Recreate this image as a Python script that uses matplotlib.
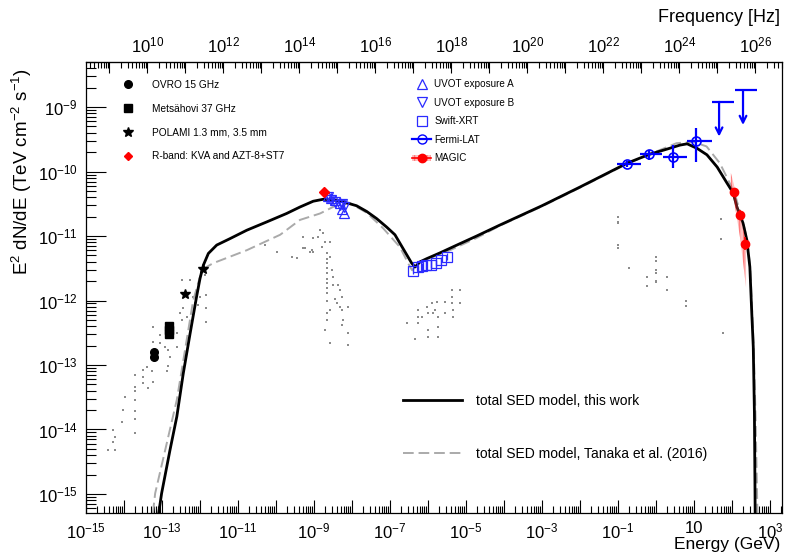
import numpy as np
import matplotlib
matplotlib.use("Agg")
import matplotlib.pyplot as plt
from matplotlib.ticker import LogLocator, FuncFormatter, NullFormatter
from matplotlib.lines import Line2D
from matplotlib.patches import Patch

plt.rcParams['font.family'] = ['Liberation Sans', 'DejaVu Sans']
plt.rcParams['mathtext.fontset'] = 'custom'
plt.rcParams['mathtext.rm'] = 'Liberation Sans'
plt.rcParams['mathtext.it'] = 'Liberation Sans:italic'
plt.rcParams['mathtext.bf'] = 'Liberation Sans:bold'

# ---- data (log10 E [GeV], log10 E^2 dN/dE [TeV cm-2 s-1]) ----
model_loge = [-13.10, -13.01, -12.79, -12.61, -12.44, -12.26, -12.09, -12.00, -11.91, -11.78,
              -11.56, -11.21, -10.77, -10.24, -9.72, -9.37, -9.02, -8.76, -8.49, -8.23,
              -7.88, -7.61, -7.35, -7.09, -6.87, -6.74, -6.56, -6.43, -6.34, -6.21,
              -6.03, -5.68, -5.24, -4.72, -4.11, -3.00, -2.00, -0.76, -0.16, 0.30,
              0.63, 0.82, 1.08, 1.34, 1.61, 1.87, 2.03, 2.13, 2.29, 2.39,
              2.47, 2.52, 2.56, 2.59, 2.61]
model_logf = [-15.35, -14.99, -14.32, -13.80, -13.13, -12.51, -11.94, -11.66, -11.45, -11.27,
              -11.14, -11.04, -10.91, -10.78, -10.65, -10.55, -10.46, -10.43, -10.44, -10.47,
              -10.53, -10.62, -10.73, -10.86, -10.98, -11.11, -11.29, -11.42, -11.48, -11.40,
              -11.35, -11.26, -11.14, -11.00, -10.83, -10.53, -10.24, -9.87, -9.73, -9.65,
              -9.59, -9.57, -9.64, -9.74, -9.93, -10.18, -10.33, -10.55, -10.80, -11.06,
              -11.48, -12.19, -12.72, -13.74, -15.30]

tanaka_loge = [-13.24, -13.18, -12.61, -12.18, -12.00, -11.89, -11.65, -10.77, -9.89, -9.37,
               -8.84, -8.40, -8.05, -7.61, -7.18, -6.74, -6.47, -6.42, -6.21, -5.42,
               -4.72, -4.11, -3.00, -2.00, -0.76, -0.16, 0.54, 0.98, 1.33, 1.68,
               1.90, 2.08, 2.29, 2.40, 2.48, 2.57, 2.62, 2.67]
tanaka_logf = [-15.30, -14.99, -13.54, -12.00, -11.63, -11.50, -11.42, -11.22, -10.98, -10.75,
               -10.65, -10.52, -10.49, -10.64, -10.88, -11.17, -11.48, -11.53, -11.40, -11.22,
               -11.03, -10.84, -10.54, -10.25, -9.88, -9.73, -9.56, -9.54, -9.61, -9.87,
               -10.13, -10.36, -10.78, -11.06, -11.48, -12.70, -13.80, -15.30]

ovro_e = [6.2e-14, 6.2e-14]
ovro_f = [1.35e-13, 1.6e-13]
mets_e = [1.53e-13, 1.53e-13, 1.53e-13]
mets_f = [3.0e-13, 3.5e-13, 4.0e-13]
polami_e = [4.1e-13, 1.2e-12]
polami_f = [1.26e-12, 3.1e-12]
rband_e = [1.82e-9]
rband_f = [4.8e-11]

uvot_e = [2.3e-9, 2.86e-9, 3.5e-9, 4.7e-9, 5.6e-9, 6.2e-9]
uvotA_f = [4.2e-11, 3.9e-11, 3.6e-11, 3.3e-11, 2.6e-11, 2.3e-11]
uvotB_f = [4.0e-11, 3.6e-11, 3.4e-11, 3.0e-11, 3.1e-11, 2.8e-11]

xrt_e = [4.0e-7, 5.5e-7, 7.0e-7, 9.0e-7, 1.2e-6, 1.6e-6, 2.2e-6, 3.2e-6]
xrt_f = [2.9e-12, 3.3e-12, 3.4e-12, 3.5e-12, 3.6e-12, 3.8e-12, 4.2e-12, 4.8e-12]

lat_loge = [-0.76, -0.18, 0.45, 1.05]
lat_loge_lo = [-1.03, -0.42, 0.18, 0.82]
lat_loge_hi = [-0.39, 0.16, 0.82, 1.47]
lat_logf = [-9.88, -9.73, -9.78, -9.53]
lat_logf_lo = [-9.93, -9.82, -9.95, -9.85]
lat_logf_hi = [-9.84, -9.67, -9.59, -9.33]

ul_loge = [1.66, 2.29]
ul_loge_lo = [1.47, 2.08]
ul_loge_hi = [2.05, 2.66]
ul_logf = [-8.92, -8.74]

magic_loge = [2.05, 2.21, 2.34]
magic_logf = [-10.32, -10.67, -11.12]
magic_logf_err = [0.06, 0.07, 0.10]
band_loge = [1.97, 2.05, 2.13, 2.21, 2.29, 2.37]
band_logf_lo = [-10.25, -10.45, -10.72, -11.02, -11.40, -11.80]
band_logf_hi = [-10.02, -10.20, -10.46, -10.66, -10.88, -11.08]

gray_loge = [
    -14.41, -14.24, -14.28, -14.24, -14.28, -14.06, -14.02, -13.97, -13.71, -13.71,
    -13.71, -13.71, -13.71, -13.71, -13.71, -13.49, -13.49, -13.49, -13.40, -13.36,
    -13.27, -13.23, -13.23, -13.23, -13.05, -13.05, -12.92, -12.83, -12.79, -12.88,
    -12.83, -12.61, -12.61, -12.53, -12.48, -12.48, -12.44, -12.35, -12.26, -12.18,
    -12.13, -12.04, -11.87, -11.84, -11.84, -11.84, -12.00,
    -10.29, -9.97, -9.58, -9.45, -9.29, -9.24, -9.11, -9.03, -9.03, -8.89,
    -9.28, -9.06, -9.02, -8.84, -8.76, -8.71, -8.80,
    -8.67, -8.67, -8.67, -8.67, -8.67, -8.67, -8.67, -8.67, -8.67,
    -8.58, -8.58, -8.53, -8.49, -8.49, -8.36, -8.32, -8.27, -8.45, -8.40,
    -8.32, -8.27, -8.23, -8.27, -8.67, -8.58, -8.10, -8.10, -8.58, -8.10,
    -8.66, -8.66, -8.71,
    -6.56, -6.25, -6.25, -6.25, -6.17, -6.03, -5.99, -5.99, -5.99, -5.90,
    -5.86, -5.82, -5.77, -5.73, -5.73, -5.73, -5.55, -5.55, -5.38, -5.38,
    -5.38, -5.33, -5.33, -5.16, -5.16, -6.34,
    -1.01, -1.01, -1.01, -1.01, -1.01, -0.70, -0.23, -0.23, 0.00, 0.00,
    0.00, 0.00, 0.00, 0.00, 0.30, 0.30, 0.78, 0.78, 1.70, 1.70, 1.76]
gray_logf = [
    -14.32, -14.32, -14.19, -14.11, -14.01, -13.88, -13.70, -13.49, -13.16, -13.34,
    -13.41, -13.54, -13.72, -13.83, -14.06, -13.08, -13.18, -13.28, -13.03, -13.36,
    -13.10, -13.27, -12.64, -12.41, -12.53, -12.66, -12.72, -12.77, -12.87, -13.10,
    -13.01, -12.51, -12.72, -12.20, -12.30, -11.68, -12.12, -12.25, -11.68, -11.94,
    -12.04, -12.07, -11.60, -11.91, -12.12, -12.33, -11.94,
    -11.14, -11.25, -11.33, -11.34, -11.02, -11.19, -11.25, -11.25, -11.03, -11.02,
    -11.19, -11.22, -11.24, -10.91, -10.96, -11.09, -11.17,
    -11.27, -11.35, -11.42, -11.50, -11.58, -11.66, -11.73, -11.81, -11.89,
    -11.09, -11.32, -11.53, -11.63, -11.76, -11.76, -11.84, -11.94, -11.97, -12.04,
    -12.10, -12.15, -12.30, -12.38, -12.20, -12.15, -12.10, -12.51, -12.66, -12.69,
    -12.00, -12.30, -12.46,
    -12.35, -12.15, -12.25, -12.35, -12.25, -12.10, -12.20, -12.46, -12.56, -12.04,
    -12.20, -12.15, -12.02, -12.25, -12.41, -12.56, -12.02, -12.20, -11.84, -11.94,
    -12.04, -12.15, -12.25, -11.84, -12.04, -12.59,
    -10.70, -10.78, -10.80, -11.14, -11.18, -11.49, -11.63, -11.78, -11.33, -11.38,
    -11.53, -11.58, -11.69, -11.72, -11.64, -11.83, -12.00, -12.09, -10.73, -11.05, -12.50]

GEV_TO_HZ = 2.418e23


def p(v):
    return 10 ** np.asarray(v, dtype=float)


fig = plt.figure(figsize=(7.86, 5.58), dpi=100)
ax = fig.add_axes([86 / 786, 45 / 558, 696 / 786, 451 / 558])
ax.set_xscale('log')
ax.set_yscale('log')

ax.plot(p(gray_loge), p(gray_logf), 's', color='#8c8c8c', ms=1.7, mew=0, zorder=1)

ax.plot(p(tanaka_loge), p(tanaka_logf), color='#aaaaaa', lw=1.4, dashes=(5.5, 2.5), zorder=2)
ax.plot(p(model_loge), p(model_logf), color='black', lw=2.0, zorder=3)

ax.plot(ovro_e, ovro_f, 'o', color='black', ms=5.5, zorder=5)
ax.plot(mets_e, mets_f, 's', color='black', ms=5.5, zorder=5)
ax.plot(polami_e, polami_f, '*', color='black', ms=7, zorder=5)
ax.plot(rband_e, rband_f, 'D', color='red', ms=5, zorder=6)

ax.plot(uvot_e, uvotA_f, '^', mfc='none', mec='#2b2bff', ms=7.5, mew=0.9, zorder=5)
ax.plot(uvot_e, uvotB_f, 'v', mfc='none', mec='#2b2bff', ms=7.5, mew=0.9, zorder=5)
ax.errorbar(xrt_e, xrt_f, yerr=[np.array(xrt_f) * 0.12, np.array(xrt_f) * 0.12],
            fmt='s', mfc='none', mec='#2b2bff', ecolor='#2b2bff', ms=6.5, mew=0.9,
            elinewidth=0.9, capsize=0, zorder=5)

lat_x = p(lat_loge)
lat_y = p(lat_logf)
ax.errorbar(lat_x, lat_y,
            xerr=[lat_x - p(lat_loge_lo), p(lat_loge_hi) - lat_x],
            yerr=[lat_y - p(lat_logf_lo), p(lat_logf_hi) - lat_y],
            fmt='o', mfc='none', mec='blue', ecolor='blue', ms=6.5, mew=1.2,
            elinewidth=1.6, capsize=0, zorder=6)

ul_x = p(ul_loge)
ul_y = p(ul_logf)
ax.errorbar(ul_x, ul_y, xerr=[ul_x - p(ul_loge_lo), p(ul_loge_hi) - ul_x],
            fmt='none', ecolor='blue', elinewidth=1.6, capsize=0, zorder=6)
for xx, yy in zip(ul_x, ul_y):
    ax.annotate('', xy=(xx, yy * 0.29), xytext=(xx, yy),
                arrowprops=dict(arrowstyle='->', color='blue', lw=1.6,
                                shrinkA=0, shrinkB=0, mutation_scale=12), zorder=6)

ax.fill_between(p(band_loge), p(band_logf_lo), p(band_logf_hi),
                facecolor=(1, 0.3, 0.3, 0.35), edgecolor=(1, 0, 0, 0.35), hatch='||||',
                lw=0, zorder=4)
mg_x = p(magic_loge)
mg_y = p(magic_logf)
ax.errorbar(mg_x, mg_y,
            yerr=[mg_y - p(np.array(magic_logf) - magic_logf_err),
                  p(np.array(magic_logf) + magic_logf_err) - mg_y],
            fmt='o', color='red', ms=6, elinewidth=1.2, capsize=0, zorder=7)

ax.set_xlim(1e-15, 2.07e3)
ax.set_ylim(5.07e-16, 5.0e-9)


def xfmt(v, pos):
    n = int(round(np.log10(v)))
    if n % 2 == 0:
        return ''
    if n == 1:
        return '10'
    return r'$10^{%d}$' % n


def yfmt(v, pos):
    n = int(round(np.log10(v)))
    return r'$10^{%d}$' % n


def ffmt(v, pos):
    n = int(round(np.log10(v)))
    if n % 2:
        return ''
    return r'$10^{%d}$' % n


ax.xaxis.set_major_locator(LogLocator(base=10, numticks=60))
ax.xaxis.set_minor_locator(LogLocator(base=10, subs=np.arange(2, 10), numticks=300))
ax.xaxis.set_major_formatter(FuncFormatter(xfmt))
ax.xaxis.set_minor_formatter(NullFormatter())
ax.yaxis.set_major_locator(LogLocator(base=10, numticks=30))
ax.yaxis.set_minor_locator(LogLocator(base=10, subs=np.arange(2, 10), numticks=100))
ax.yaxis.set_major_formatter(FuncFormatter(yfmt))
ax.yaxis.set_minor_formatter(NullFormatter())

ax.tick_params(axis='x', which='major', direction='in', length=9.5, width=0.8,
               labelsize=12, pad=6, top=False)
ax.tick_params(axis='x', which='minor', direction='in', length=5, width=0.8, top=False)
ax.tick_params(axis='y', which='major', direction='in', length=14.5, width=0.8,
               labelsize=12, pad=6, right=False)
ax.tick_params(axis='y', which='minor', direction='in', length=7.5, width=0.8, right=False)

sec = ax.secondary_xaxis('top', functions=(lambda e: e * GEV_TO_HZ, lambda n: n / GEV_TO_HZ))
sec.xaxis.set_major_locator(LogLocator(base=10, numticks=60))
sec.xaxis.set_minor_locator(LogLocator(base=10, subs=np.arange(2, 10), numticks=300))
sec.xaxis.set_major_formatter(FuncFormatter(ffmt))
sec.xaxis.set_minor_formatter(NullFormatter())
sec.tick_params(which='major', direction='in', length=8, width=0.8, labelsize=12, pad=5)
sec.tick_params(which='minor', direction='in', length=4.3, width=0.8)

for s in ax.spines.values():
    s.set_linewidth(0.9)

fig.text(780 / 786, 1 - 545 / 558, 'Energy (GeV)', ha='right', va='center', fontsize=12.5)
fig.text(780 / 786, 1 - 18 / 558, 'Frequency [Hz]', ha='right', va='center', fontsize=13)
fig.text(22 / 786, 1 - 172 / 558, r'E$^{2}$ dN/dE (TeV cm$^{-2}$ s$^{-1}$)',
         rotation=90, ha='center', va='center', fontsize=13.5)

h_left = [
    Line2D([], [], ls='none', marker='o', color='black', ms=5.5),
    Line2D([], [], ls='none', marker='s', color='black', ms=5.5),
    Line2D([], [], ls='none', marker='*', color='black', ms=7),
    Line2D([], [], ls='none', marker='D', color='red', ms=4),
]
lab_left = ['OVRO 15 GHz', 'Metsähovi 37 GHz', 'POLAMI 1.3 mm, 3.5 mm',
            'R-band: KVA and AZT-8+ST7']
leg1 = ax.legend(h_left, lab_left, loc='upper left', bbox_to_anchor=(0.046, 0.96),
                 frameon=False, fontsize=7.3, labelspacing=1.35, handlelength=2,
                 handletextpad=1.4, borderpad=0, borderaxespad=0)
ax.add_artist(leg1)

h_right = [
    Line2D([], [], ls='none', marker='^', mfc='none', mec='#2b2bff', ms=7, mew=0.9),
    Line2D([], [], ls='none', marker='v', mfc='none', mec='#2b2bff', ms=7, mew=0.9),
    Line2D([], [], ls='none', marker='s', mfc='none', mec='#2b2bff', ms=6.5, mew=0.9),
    Line2D([], [], color='blue', marker='o', mfc='none', mec='blue', ms=6.5, lw=1.6),
    (Patch(facecolor=(1, 0.3, 0.3, 0.35), edgecolor=(1, 0, 0, 0.35), hatch='||||', lw=0),
     Line2D([], [], color='red', marker='o', ms=6, lw=1.2)),
]
lab_right = ['UVOT exposure A', 'UVOT exposure B', 'Swift-XRT', 'Fermi-LAT', 'MAGIC']
leg2 = ax.legend(h_right, lab_right, loc='upper left', bbox_to_anchor=(0.468, 0.962),
                 frameon=False, fontsize=7.1, labelspacing=0.87, handlelength=2,
                 handletextpad=0.3, borderpad=0, borderaxespad=0)
ax.add_artist(leg2)

h_mod = [Line2D([], [], color='black', lw=2.0),
         Line2D([], [], color='#aaaaaa', lw=1.4, dashes=(5.5, 2.5))]
lab_mod = ['total SED model, this work', 'total SED model, Tanaka et al. (2016)']
ax.legend(h_mod, lab_mod, loc='upper left', bbox_to_anchor=(0.455, 0.264),
          frameon=False, fontsize=10, labelspacing=2.8, handlelength=4.3,
          handletextpad=1.0, borderpad=0, borderaxespad=0)

fig.savefig('out.png', dpi=100)
